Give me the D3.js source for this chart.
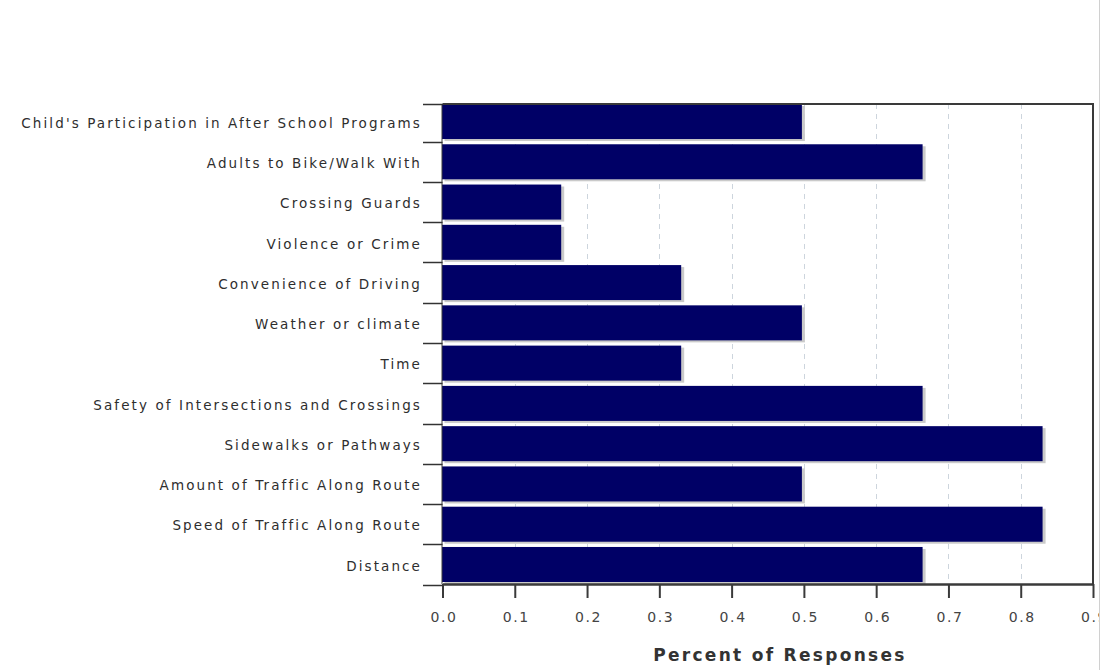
<!DOCTYPE html>
<html><head><meta charset="utf-8">
<script src="https://cdn.jsdelivr.net/npm/d3@7"></script>
<style>body{margin:0;background:#fff;} svg{display:block;}</style>
</head><body>
<svg id="c" width="1103" height="670"></svg>
<script>
const categories = ["Child's Participation in After School Programs","Adults to Bike/Walk With","Crossing Guards","Violence or Crime","Convenience of Driving","Weather or climate","Time","Safety of Intersections and Crossings","Sidewalks or Pathways","Amount of Traffic Along Route","Speed of Traffic Along Route","Distance"];
const values = [0.5,0.667,0.167,0.167,0.333,0.5,0.333,0.667,0.833,0.5,0.833,0.667];
const xTicks = [0,0.1,0.2,0.3,0.4,0.5,0.6,0.7,0.8,0.9];
const xTitle = "Percent of Responses";

const svg = d3.select("#c");
const L=442.5, R=1093, T=104, B=584;
const x = d3.scaleLinear().domain([0,0.9]).range([L,R]);
const y = d3.scaleBand().domain(categories).range([T,582]).paddingInner(0.13).paddingOuter(0);

// gridlines
svg.append("g").selectAll("line").data(xTicks.slice(1,-1)).join("line")
  .attr("x1",d=>Math.round(x(d))+0.5).attr("x2",d=>Math.round(x(d))+0.5).attr("y1",T).attr("y2",B)
  .attr("stroke","#cdd5dd").attr("stroke-dasharray","5,5");

// shadows and bars
const g = svg.append("g");
g.selectAll("rect.s").data(values).join("rect").attr("class","s")
  .attr("x",x(0)+2).attr("y",(d,i)=>y(categories[i])+2)
  .attr("width",d=>x(d)-x(0)-1).attr("height",y.bandwidth())
  .attr("fill","#cacaca");
g.selectAll("rect.b").data(values).join("rect").attr("class","b")
  .attr("x",x(0)-0.5).attr("y",(d,i)=>y(categories[i]))
  .attr("width",d=>x(d)-x(0)-1.5).attr("height",y.bandwidth())
  .attr("fill","#000066");

// frame: top & right
svg.append("path").attr("d",`M${L},${T}H${R}V${B}`).attr("fill","none").attr("stroke","#3a3a3a").attr("stroke-width",2);

// bottom axis
const xa = d3.axisBottom(x).tickValues(xTicks).tickFormat(d3.format(".1f")).tickSize(14).tickSizeOuter(0);
const gx = svg.append("g").attr("transform",`translate(0,${B})`).call(xa);
gx.select(".domain").attr("stroke","#3a3a3a").attr("stroke-width",2.5);
gx.selectAll(".tick line").attr("stroke","#3a3a3a").attr("stroke-width",2);
gx.selectAll(".tick text").attr("font-family","DejaVu Sans").attr("font-size",14).attr("fill","#444")
  .attr("y",0).attr("dy",null).attr("transform","translate(1,38)").attr("letter-spacing",1.6);

// left axis line & category ticks
svg.append("line").attr("x1",L-0.5).attr("x2",L-0.5).attr("y1",T).attr("y2",B).attr("stroke","#3a3a3a").attr("stroke-width",1);
const step = y.step(), gap = step - y.bandwidth();
const tickYs = [T].concat(categories.slice(1).map(c=>y(c)-gap/2)).concat([B+1]);
svg.append("g").selectAll("line").data(tickYs).join("line")
  .attr("x1",423).attr("x2",L).attr("y1",d=>Math.round(d)+0.5).attr("y2",d=>Math.round(d)+0.5)
  .attr("stroke","#333").attr("stroke-width",1.5);

svg.append("g").selectAll("text").data(categories).join("text")
  .attr("x",422).attr("y",c=>y(c)+y.bandwidth()/2+1.5).attr("dy","0.35em")
  .attr("text-anchor","end").attr("font-family","DejaVu Sans").attr("font-size",13.5)
  .attr("letter-spacing",2.1).attr("fill","#2e2e2e").text(c=>c);

svg.append("text").attr("x",780).attr("y",661).attr("text-anchor","middle")
  .attr("font-family","DejaVu Sans").attr("font-weight","bold").attr("font-size",17)
  .attr("letter-spacing",2.3).attr("fill","#333").text(xTitle);

// page edge: white margin and border line at right
svg.append("rect").attr("x",1100).attr("y",0).attr("width",3).attr("height",670).attr("fill","#fff");
svg.append("line").attr("x1",1099.5).attr("x2",1099.5).attr("y1",0).attr("y2",670).attr("stroke","#d0d0d0").attr("stroke-width",1);
</script>
</body></html>
